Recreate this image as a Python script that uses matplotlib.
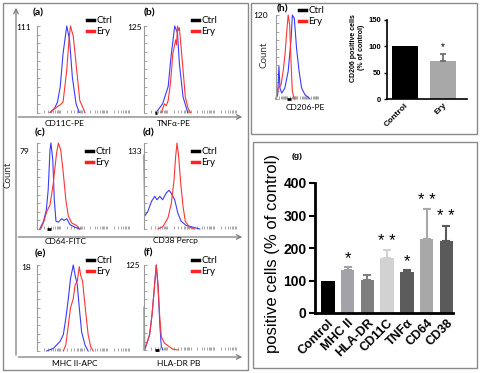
import numpy as np
import matplotlib
matplotlib.use('Agg')
import matplotlib.pyplot as plt
from matplotlib.patches import Rectangle
from matplotlib.lines import Line2D

plt.rcParams['font.family'] = ['Lato', 'DejaVu Sans']

# 直方图数据: x = 荧光通道 (0-100, 对数显示), y = 占峰值计数的百分比
a_ctrl_x = [14, 19, 22, 25, 28, 32, 35, 38, 42, 45.5]
a_ctrl_y = [0, 5, 12, 30, 68, 100, 84, 41, 10, 0]
a_ery_x = [14, 21, 25, 28, 32, 34.4, 36, 39, 42.7, 46, 51.6]
a_ery_y = [0, 6, 9, 12, 49, 84, 100, 88, 49, 14, 0]

b_ctrl_x = [13, 20, 26, 29, 33, 36, 38, 42, 47]
b_ctrl_y = [0, 10, 30, 64, 100, 92, 57, 18, 0]
b_ery_x = [18.6, 22, 24, 26, 28, 29, 31, 34, 35, 36, 37, 38, 39.5, 42, 44.4, 47.3, 50]
b_ery_y = [0, 10, 8, 14, 30, 41, 68, 84, 78, 100, 95, 98, 80, 49, 18, 5, 0]

c_ctrl_x = [3, 7, 10, 12, 14, 15, 17, 18.6, 20.4, 23, 26.6, 29, 32, 35.5, 41, 46]
c_ctrl_y = [0, 9, 22, 45, 92, 100, 80, 34, 9, 8, 12, 10, 12, 5, 2, 0]
c_ery_x = [4, 7.5, 10.4, 14, 17.5, 21, 23, 25.5, 28, 31, 33.7, 37.3, 42.7, 46]
c_ery_y = [0, 9, 20, 28, 53, 88, 100, 92, 68, 34, 15, 7, 4, 0]

d_ctrl_x = [0, 0.7, 4, 8, 11.5, 14, 17, 20, 24, 27, 29, 33, 36.5, 40, 45.5, 53, 60]
d_ctrl_y = [86, 15, 20, 32, 38, 34, 38, 34, 42, 45, 42, 34, 18, 9, 4, 2, 0]
d_ery_x = [15, 20.4, 25.8, 29.4, 32.3, 34, 35.5, 37.3, 39.5, 42, 44.4, 49, 54.5]
d_ery_y = [0, 3, 13, 30, 57, 84, 100, 84, 53, 26, 9, 2, 0]

e_ctrl_x = [10.4, 17.5, 24.7, 28.3, 31, 33.7, 36, 39, 41, 43.3, 45.5, 48, 51.6, 55]
e_ctrl_y = [0, 3, 11, 19, 38, 61, 84, 100, 88, 77, 50, 22, 7, 0]
e_ery_x = [28.3, 31, 33.7, 36, 39, 41, 43.3, 45.5, 47, 49, 50.5, 52.7, 55, 57.7, 60.5]
e_ery_y = [0, 7, 30, 50, 61, 77, 81, 98, 88, 81, 65, 42, 19, 5, 0]

f_ctrl_x = [0.8, 2.5, 6, 8.6, 10.8, 13.2, 15, 17, 18.6, 20.4]
f_ctrl_y = [0, 6, 18, 41, 69, 100, 77, 30, 4, 0]
f_ery_x = [0, 0.3, 0.8, 2.5, 6, 8.6, 10.8, 13.2, 15, 17, 18.6, 22, 25.8, 31, 36.5]
f_ery_y = [0, 51, 3, 6, 18, 41, 69, 100, 77, 38, 16, 8, 5, 1, 0]

h_ctrl_x = [0, 4, 7, 9.5, 13.6, 21, 29, 36, 39, 43.6, 49, 55, 61, 69, 77, 81]
h_ctrl_y = [0, 5, 39, 13, 7, 13, 33, 72, 100, 96, 60, 33, 13, 5, 2, 0]
h_ery_x = [0, 1.7, 5.5, 12, 17, 21.4, 25.5, 29, 32.6, 36, 39, 43.6]
h_ery_y = [0, 5, 13, 17, 33, 53, 80, 100, 88, 41, 9, 0]

# 直方图 y 轴最大计数
max_counts = {'a': '111', 'b': '125', 'c': '79', 'd': '133', 'e': '18', 'f': '125', 'h': '120'}
markers = {'a': 'CD11C-PE', 'b': 'TNFα-PE', 'c': 'CD64-FITC', 'd': 'CD38 Percp',
           'e': 'MHC II-APC', 'f': 'HLA-DR PB', 'h': 'CD206-PE'}
gates = {'b': (11.5, 14), 'c': (11, 15), 'f': (11.5, 16), 'h': (25, 36)}

# 柱状图 (g)
g_labels = ['Control', 'MHC II', 'HLA-DR', 'CD11C', 'TNFα', 'CD64', 'CD38']
g_values = [100, 132, 101, 169, 127, 229, 222]
g_errors = [0, 9, 17, 24, 5, 90, 47]
g_stars = ['', '*', '', '* *', '*', '* *', '* *']
g_colors = ['#000000', '#a2a2a8', '#7e7e7e', '#d2d2d2', '#5c5c5c', '#a8a8a8', '#5a5a5a']

# CD206 柱状图
cd206_labels = ['Control', 'Ery']
cd206_values = [100, 73]
cd206_errors = [0, 13]
cd206_stars = ['', '*']
cd206_colors = ['#000000', '#a8a8a8']

W, H = 480, 373
fig = plt.figure(figsize=(W / 100, H / 100), dpi=100)


def box(l, t, r, b):
    return [l / W, 1 - b / H, (r - l) / W, (b - t) / H]


# 背景层 (像素坐标)
bg = fig.add_axes([0, 0, 1, 1])
bg.set_xlim(0, W)
bg.set_ylim(H, 0)
bg.axis('off')
for (x0, y0, w, h) in [(3, 3, 245, 367), (251, 3, 226, 131), (253, 142, 224, 226)]:
    bg.add_patch(Rectangle((x0, y0), w, h, fill=False, ec='#8a8a8a', lw=1))
arrow = dict(arrowstyle='->', color='#7a7a7a', lw=0.9, mutation_scale=8)
bg.annotate('', xy=(16, 5), xytext=(16, 358), arrowprops=arrow)
for y in (117, 237, 357):
    bg.annotate('', xy=(245, y), xytext=(15.5, y), arrowprops=arrow)
bg.text(8, 175, 'Count', rotation=90, ha='center', va='center', fontsize=7, color='#333333')

log_ticks = sorted(set(d * 25 + 25 * np.log10(k) for d in range(4) for k in range(1, 10)))


def hist_panel(key, rect, cx, cy, ex, ey, num_xy, letter_xy, xlabel_xy, legend_xy):
    l, t, r, b = rect
    ax = fig.add_axes(box(l, t, r, b))
    ax.set_xlim(0, 100)
    ax.set_ylim(0, 100)
    ax.patch.set_alpha(0)
    for s in ['top', 'right', 'bottom']:
        ax.spines[s].set_visible(False)
    ax.spines['left'].set_color('#9a9a9a')
    ax.spines['left'].set_linewidth(0.8)
    ax.set_yticks(np.arange(0, 101, 10))
    ax.set_xticks(log_ticks)
    ax.set_xticklabels([])
    ax.set_yticklabels([])
    ax.tick_params(direction='in', length=2, width=0.6, color='#9a9a9a')
    ax.plot(cx, cy, color='#3b3bff', lw=0.8, clip_on=False)
    ax.plot(ex, ey, color='#ff3535', lw=0.8, clip_on=False)
    if key in gates:
        ax.plot(gates[key], [0, 0], color='black', lw=2, clip_on=False, solid_capstyle='butt')
    bg.text(num_xy[0], num_xy[1], max_counts[key], ha='right', va='center', fontsize=6)
    bg.text(letter_xy[0], letter_xy[1], '(%s)' % key, ha='left', va='center',
            fontsize=7.5, fontweight='bold')
    bg.text(xlabel_xy[0], xlabel_xy[1], markers[key], ha='center', va='center', fontsize=6)
    handles = [Line2D([], [], color='black', lw=2.5), Line2D([], [], color='#ff2020', lw=2.5)]
    ax.legend(handles, ['Ctrl', 'Ery'], loc='upper left', bbox_to_anchor=legend_xy,
              bbox_transform=bg.transData, frameon=False, fontsize=7, handlelength=0.7,
              handletextpad=0.25, labelspacing=0.25, borderpad=0, borderaxespad=0)
    return ax


hist_panel('a', (37, 26, 130, 112.5), a_ctrl_x, a_ctrl_y, a_ery_x, a_ery_y,
           (31, 28), (33, 13), (65, 123), (87, 16))
hist_panel('b', (144, 26, 237, 112.5), b_ctrl_x, b_ctrl_y, b_ery_x, b_ery_y,
           (142, 28), (144, 13), (174, 123), (192, 16))
hist_panel('c', (37, 143, 130, 229), c_ctrl_x, c_ctrl_y, c_ery_x, c_ery_y,
           (29, 152), (35, 133), (66, 241), (86, 147))
hist_panel('d', (144, 143, 237, 229), d_ctrl_x, d_ctrl_y, d_ery_x, d_ery_y,
           (142, 152), (143, 133), (175, 241), (192, 147))
hist_panel('e', (37, 265, 130, 351), e_ctrl_x, e_ctrl_y, e_ery_x, e_ery_y,
           (31, 268), (35, 254), (75, 363), (87, 256))
hist_panel('f', (144, 265, 237, 350), f_ctrl_x, f_ctrl_y, f_ery_x, f_ery_y,
           (140, 265), (144, 253), (179, 363), (192, 256))
hist_panel('h', (276, 15, 318, 99), h_ctrl_x, h_ctrl_y, h_ery_x, h_ery_y,
           (268, 15), (277, 9), (305, 108), (299, 6))
bg.text(264, 55, 'Count', rotation=90, ha='center', va='center', fontsize=7, color='#333333')

# CD206 阳性细胞柱状图
ax2 = fig.add_axes(box(387, 20, 467, 99))
x2 = np.arange(len(cd206_labels))
ax2.bar(x2, cd206_values, width=0.7, color=cd206_colors)
for i in x2:
    if cd206_errors[i] > 0:
        ax2.errorbar(i, cd206_values[i], yerr=[[0], [cd206_errors[i]]], color='#666666',
                     lw=1.2, capsize=2.5, capthick=1.2)
    if cd206_stars[i]:
        ax2.text(i, cd206_values[i] + cd206_errors[i] + 3, cd206_stars[i], ha='center',
                 va='bottom', fontsize=7, family='Liberation Sans')
ax2.set_xlim(-0.47, 1.63)
ax2.set_ylim(0, 150)
ax2.set_yticks([0, 50, 100, 150])
ax2.set_xticks(x2)
ax2.set_xticklabels(cd206_labels, rotation=45, ha='right', rotation_mode='anchor',
                    fontsize=6, fontweight='bold', family='Liberation Sans')
for lab in ax2.get_yticklabels():
    lab.set_fontsize(5.5)
    lab.set_fontweight('bold')
    lab.set_family('Liberation Sans')
ax2.spines['top'].set_visible(False)
ax2.spines['right'].set_visible(False)
for s in ['left', 'bottom']:
    ax2.spines[s].set_linewidth(1.2)
ax2.tick_params(axis='y', length=2.5, width=1, pad=1.5)
ax2.tick_params(axis='x', length=0, pad=2)
ax2.set_ylabel('CD206 positive cells\n(% of control)', fontsize=5, fontweight='bold',
               family='Liberation Sans', linespacing=1.1)
ax2.yaxis.set_label_coords(-0.28, 0.65)

# 柱状图 (g)
ax3 = fig.add_axes(box(315, 183, 453, 313))
x3 = np.arange(len(g_labels))
ax3.bar(x3, g_values, width=0.68, color=g_colors)
for i in x3:
    if g_errors[i] > 0:
        ax3.errorbar(i, g_values[i], yerr=[[0], [g_errors[i]]], color=g_colors[i],
                     lw=1.5, capsize=3, capthick=1.5)
    if g_stars[i]:
        ax3.text(i, g_values[i] + g_errors[i] + 4, g_stars[i], ha='center', va='bottom',
                 fontsize=12, family='Liberation Sans')
ax3.set_xlim(-0.66, 6.34)
ax3.set_ylim(0, 400)
ax3.set_yticks([0, 100, 200, 300, 400])
ax3.set_xticks(x3)
ax3.set_xticklabels(g_labels, rotation=45, ha='right', rotation_mode='anchor',
                    fontsize=9, fontweight='bold', family='Liberation Sans')
for lab in ax3.get_yticklabels():
    lab.set_fontsize(10)
    lab.set_fontweight('bold')
    lab.set_family('Liberation Sans')
ax3.spines['top'].set_visible(False)
ax3.spines['right'].set_visible(False)
for s in ['left', 'bottom']:
    ax3.spines[s].set_linewidth(2)
ax3.tick_params(axis='y', length=4, width=1.5, pad=2)
ax3.tick_params(axis='x', length=0, pad=3)
ax3.set_ylabel('positive cells (% of control)', fontsize=12, family='Liberation Sans')
ax3.yaxis.set_label_coords(-0.25, 0.46)
bg.text(297, 156, '(g)', ha='center', va='center', fontsize=6, fontweight='bold',
        family='Liberation Sans')

fig.savefig('out.png', dpi=100)
